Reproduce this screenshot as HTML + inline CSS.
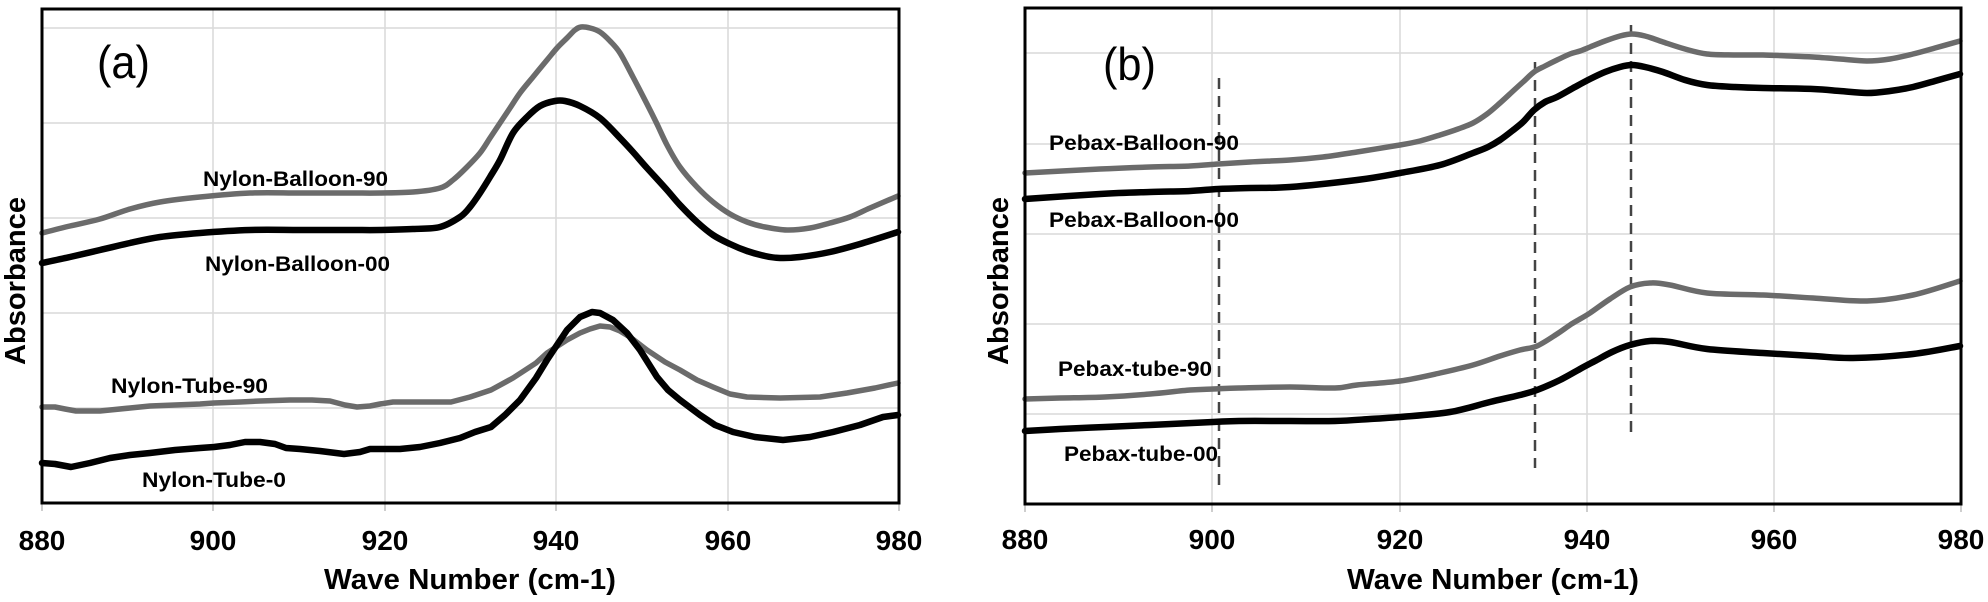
<!DOCTYPE html>
<html>
<head>
<meta charset="utf-8">
<style>
html,body{margin:0;padding:0;background:#fff;}
svg{display:block;}
text{font-family:"Liberation Sans",Arial,sans-serif;}
.tk{font-size:28px;font-weight:bold;fill:#000;text-anchor:middle;}
.lb{font-size:21px;font-weight:bold;fill:#000;}
.ax{font-size:29px;font-weight:bold;fill:#000;text-anchor:middle;}
.grid line{stroke:#d9d9d9;stroke-width:1.5;}
.tick line{stroke:#bdbdbd;stroke-width:1.5;}
.g{fill:none;stroke:#6b6b6b;stroke-width:5.5;stroke-linejoin:round;stroke-linecap:round;}
.k{fill:none;stroke:#000;stroke-width:6.5;stroke-linejoin:round;stroke-linecap:round;}
.d{stroke:#444;stroke-width:2.5;stroke-dasharray:11,7;}
</style>
</head>
<body>
<svg id="chart" width="1988" height="602" viewBox="0 0 1988 602" xmlns="http://www.w3.org/2000/svg">
<rect x="0" y="0" width="1988" height="602" fill="#fff"/>

<!-- ===== Panel A ===== -->
<g class="grid">
  <line x1="213" y1="10" x2="213" y2="502"/>
  <line x1="385" y1="10" x2="385" y2="502"/>
  <line x1="556" y1="10" x2="556" y2="502"/>
  <line x1="728" y1="10" x2="728" y2="502"/>
  <line x1="43" y1="28" x2="898" y2="28"/>
  <line x1="43" y1="123" x2="898" y2="123"/>
  <line x1="43" y1="218" x2="898" y2="218"/>
  <line x1="43" y1="313" x2="898" y2="313"/>
  <line x1="43" y1="408" x2="898" y2="408"/>
</g>
<g class="tick">
  <line x1="42" y1="504" x2="42" y2="511"/>
  <line x1="213" y1="504" x2="213" y2="511"/>
  <line x1="385" y1="504" x2="385" y2="511"/>
  <line x1="556" y1="504" x2="556" y2="511"/>
  <line x1="728" y1="504" x2="728" y2="511"/>
  <line x1="899" y1="504" x2="899" y2="511"/>
</g>

<polyline class="g sm" points="42,233 70,226 100,219 130,209 160,202 200,197 250,193 300,193 350,193 380,193 413,192 440,188 453,180 466,168 480,153 490,138 500,123 510,108 520,93 533,77 547,60 557,48 567,38 575,30 581,27 590,28 600,32 610,41 620,53 633,77 647,104 657,124 667,145 680,167 697,187 713,202 730,214 747,222 765,227 787,230 810,228 830,223 850,217 870,208 898,196"/>
<polyline class="k sm" points="42,263 70,257 100,250 130,243 160,237 200,233 250,230 300,230 350,230 380,230 413,229 440,227 460,217 470,207 480,193 490,177 500,160 513,133 527,117 540,106 555,101 565,101 580,106 600,118 620,138 633,152 647,168 667,190 680,205 697,222 713,235 730,244 747,251 765,256 780,258 800,257 830,252 860,244 898,232"/>
<polyline class="g" points="42,407 55,407 65,409 76,411 100,411 110,410 130,408 150,406 175,405 200,404 214,403 240,402 260,401 290,400 312,400 330,401 345,405 357,407 370,406 380,404 393,402 420,402 451,402 470,397 491,390 513,378 536,363 547,353 567,340 580,333 590,329 600,326 610,327 620,331 630,337 647,350 665,362 680,370 697,380 713,387 730,394 747,397 780,398 820,397 847,393 875,388 898,383"/>
<polyline class="k" points="42,463 55,464 71,467 90,463 110,458 130,455 150,453 175,450 200,448 214,447 230,445 245,442 260,442 275,444 286,448 300,449 320,451 344,454 360,452 370,449 400,449 420,447 440,443 460,438 475,432 491,427 505,415 520,400 536,378 547,360 567,330 580,317 592,312 600,313 613,320 627,333 640,350 657,377 668,390 680,400 700,415 715,425 733,432 755,437 783,440 810,437 833,432 860,425 883,417 898,415"/>

<rect x="42" y="9" width="857" height="494" fill="none" stroke="#000" stroke-width="3"/>

<text x="97" y="78" font-size="46" textLength="53" lengthAdjust="spacingAndGlyphs" fill="#000">(a)</text>
<text class="lb" x="203" y="186" textLength="185" lengthAdjust="spacingAndGlyphs">Nylon-Balloon-90</text>
<text class="lb" x="205" y="271" textLength="185" lengthAdjust="spacingAndGlyphs">Nylon-Balloon-00</text>
<text class="lb" x="111" y="393" textLength="157" lengthAdjust="spacingAndGlyphs">Nylon-Tube-90</text>
<text class="lb" x="142" y="487" textLength="144" lengthAdjust="spacingAndGlyphs">Nylon-Tube-0</text>

<text class="tk" x="42" y="550">880</text>
<text class="tk" x="213" y="550">900</text>
<text class="tk" x="385" y="550">920</text>
<text class="tk" x="556" y="550">940</text>
<text class="tk" x="728" y="550">960</text>
<text class="tk" x="899" y="550">980</text>
<text class="ax" x="470" y="589" textLength="292" lengthAdjust="spacingAndGlyphs">Wave Number (cm-1)</text>
<text class="ax" transform="translate(25,281) rotate(-90)" x="0" y="0" font-size="28" textLength="168" lengthAdjust="spacingAndGlyphs">Absorbance</text>

<!-- ===== Panel B ===== -->
<g class="grid">
  <line x1="1212" y1="9" x2="1212" y2="503"/>
  <line x1="1400" y1="9" x2="1400" y2="503"/>
  <line x1="1587" y1="9" x2="1587" y2="503"/>
  <line x1="1774" y1="9" x2="1774" y2="503"/>
  <line x1="1026" y1="53" x2="1960" y2="53"/>
  <line x1="1026" y1="144" x2="1960" y2="144"/>
  <line x1="1026" y1="234" x2="1960" y2="234"/>
  <line x1="1026" y1="324" x2="1960" y2="324"/>
  <line x1="1026" y1="414" x2="1960" y2="414"/>
</g>
<g class="tick">
  <line x1="1025" y1="505" x2="1025" y2="512"/>
  <line x1="1212" y1="505" x2="1212" y2="512"/>
  <line x1="1400" y1="505" x2="1400" y2="512"/>
  <line x1="1587" y1="505" x2="1587" y2="512"/>
  <line x1="1774" y1="505" x2="1774" y2="512"/>
  <line x1="1961" y1="505" x2="1961" y2="512"/>
</g>

<line class="d" x1="1219" y1="78" x2="1219" y2="487"/>
<line class="d" x1="1535" y1="62" x2="1535" y2="468"/>
<line class="d" x1="1631" y1="25" x2="1631" y2="437"/>

<polyline class="g sm" points="1025,173 1100,169 1150,167 1190,166 1218,164 1250,162 1290,160 1323,157 1357,152 1400,145 1420,141 1440,135 1458,129 1473,123 1487,114 1500,103 1512,92 1523,82 1534,72 1545,66 1557,60 1570,54 1580,51 1590,47 1605,41 1620,36 1632,34 1645,36 1663,42 1685,49 1707,54 1735,55 1763,55 1790,56 1813,57 1840,59 1867,61 1890,59 1913,54 1935,48 1960,41"/>
<polyline class="k sm" points="1025,199 1100,194 1150,192 1190,191 1218,189 1250,188 1290,187 1357,180 1400,173 1440,165 1473,153 1488,147 1500,140 1512,131 1523,122 1534,110 1545,102 1557,97 1575,87 1590,79 1605,72 1620,67 1632,65 1645,67 1663,72 1685,80 1707,85 1735,87 1763,88 1813,89 1840,91 1867,93 1890,91 1913,87 1935,81 1960,74"/>
<polyline class="g sm" points="1025,399 1060,398 1105,397 1150,394 1190,390 1213,389 1239,388 1290,387 1335,388 1357,385 1400,381 1440,373 1473,365 1500,356 1520,350 1537,346 1557,334 1570,325 1580,319 1590,313 1610,299 1630,287 1650,283 1670,285 1707,293 1763,295 1813,298 1867,301 1913,295 1960,281"/>
<polyline class="k sm" points="1025,431 1060,429 1105,427 1150,425 1213,422 1239,421 1290,421 1335,421 1370,419 1400,417 1450,412 1490,402 1520,395 1537,390 1560,380 1580,369 1595,361 1612,352 1630,345 1650,341 1670,342 1707,349 1763,353 1813,356 1853,358 1913,354 1960,346"/>

<rect x="1025" y="8" width="936" height="496" fill="none" stroke="#000" stroke-width="3"/>

<text x="1103" y="80" font-size="46" textLength="53" lengthAdjust="spacingAndGlyphs" fill="#000">(b)</text>
<text class="lb" x="1049" y="150" textLength="190" lengthAdjust="spacingAndGlyphs">Pebax-Balloon-90</text>
<text class="lb" x="1049" y="227" textLength="190" lengthAdjust="spacingAndGlyphs">Pebax-Balloon-00</text>
<text class="lb" x="1058" y="376" textLength="154" lengthAdjust="spacingAndGlyphs">Pebax-tube-90</text>
<text class="lb" x="1064" y="461" textLength="154" lengthAdjust="spacingAndGlyphs">Pebax-tube-00</text>

<text class="tk" x="1025" y="549">880</text>
<text class="tk" x="1212" y="549">900</text>
<text class="tk" x="1400" y="549">920</text>
<text class="tk" x="1587" y="549">940</text>
<text class="tk" x="1774" y="549">960</text>
<text class="tk" x="1961" y="549">980</text>
<text class="ax" x="1493" y="589" textLength="292" lengthAdjust="spacingAndGlyphs">Wave Number (cm-1)</text>
<text class="ax" transform="translate(1008,281) rotate(-90)" x="0" y="0" font-size="28" textLength="168" lengthAdjust="spacingAndGlyphs">Absorbance</text>
</svg>
<script>
(function(){
  var ns="http://www.w3.org/2000/svg";
  var pls=document.querySelectorAll("polyline.sm");
  for(var i=0;i<pls.length;i++){
    var pl=pls[i];
    var raw=pl.getAttribute("points").trim().split(/\s+/);
    var p=raw.map(function(s){var a=s.split(",");return [parseFloat(a[0]),parseFloat(a[1])];});
    if(p.length<3) continue;
    var d="M"+p[0][0]+","+p[0][1];
    for(var j=0;j<p.length-1;j++){
      var p0=p[j-1]||p[j], p1=p[j], p2=p[j+1], p3=p[j+2]||p[j+1];
      var c1x=p1[0]+(p2[0]-p0[0])/6, c1y=p1[1]+(p2[1]-p0[1])/6;
      var c2x=p2[0]-(p3[0]-p1[0])/6, c2y=p2[1]-(p3[1]-p1[1])/6;
      d+=" C"+c1x.toFixed(1)+","+c1y.toFixed(1)+" "+c2x.toFixed(1)+","+c2y.toFixed(1)+" "+p2[0]+","+p2[1];
    }
    var path=document.createElementNS(ns,"path");
    path.setAttribute("d",d);
    path.setAttribute("class",pl.getAttribute("class"));
    pl.parentNode.replaceChild(path,pl);
  }
})();
</script>
</body>
</html>
